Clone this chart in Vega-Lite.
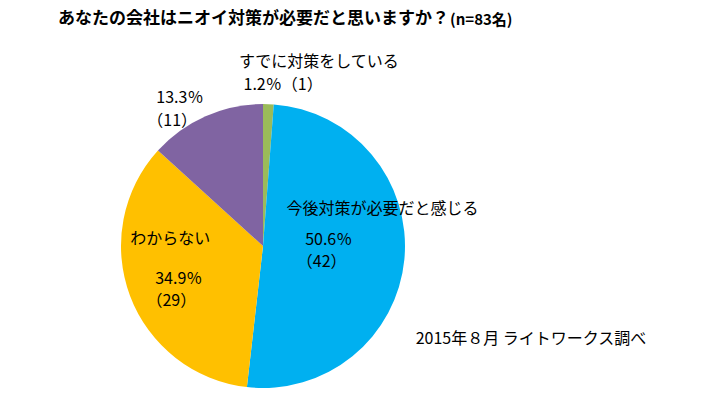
{
  "$schema": "https://vega.github.io/schema/vega-lite/v6.json",
  "autosize": {"type": "none"},
  "padding": {"left": 121, "top": 104, "right": 310, "bottom": 6},
  "width": 284,
  "height": 284,
  "background": "white",
  "config": {"view": {"stroke": null}, "font": "Noto Sans CJK JP"},
  "data": {
    "values": [
      {"cat": "すでに対策をしている", "pct": "1.2％（1）", "cnt": "", "n": 1, "order": 1},
      {"cat": "今後対策が必要だと感じる", "pct": "50.6％", "cnt": "（42）", "n": 42, "order": 2},
      {"cat": "わからない", "pct": "34.9％", "cnt": "（29）", "n": 29, "order": 3},
      {"cat": "その他", "pct": "13.3％", "cnt": "（11）", "n": 11, "order": 4}
    ]
  },
  "encoding": {
    "theta": {"field": "n", "type": "quantitative", "stack": true},
    "order": {"field": "order", "type": "quantitative"}
  },
  "layer": [
    {
      "mark": {"type": "arc"},
      "encoding": {
        "color": {
          "field": "cat",
          "type": "nominal",
          "scale": {
            "domain": ["すでに対策をしている", "今後対策が必要だと感じる", "わからない", "その他"],
            "range": ["#9BBB59", "#00B0F0", "#FFC000", "#8064A2"]
          },
          "legend": null
        }
      }
    },
    {
      "mark": {"type": "text", "align": "center", "baseline": "middle", "fontSize": 16, "color": "#000000", "dx": 49, "dy": 0},
      "encoding": {"radius": {"value": 184}, "text": {"condition": {"test": "datum.order === 1", "field": "cat"}, "value": ""}}
    },
    {
      "mark": {"type": "text", "align": "center", "baseline": "middle", "fontSize": 16, "color": "#000000", "dx": 14, "dy": 0},
      "encoding": {"radius": {"value": 161}, "text": {"condition": {"test": "datum.order === 1", "field": "pct"}, "value": ""}}
    },
    {
      "mark": {"type": "text", "align": "center", "baseline": "middle", "fontSize": 16, "color": "#000000", "dx": -18, "dy": -1},
      "encoding": {"radius": {"value": 161}, "text": {"condition": {"test": "datum.order === 4", "field": "pct"}, "value": ""}}
    },
    {
      "mark": {"type": "text", "align": "center", "baseline": "middle", "fontSize": 16, "color": "#000000", "dx": -35, "dy": 1},
      "encoding": {"radius": {"value": 138}, "text": {"condition": {"test": "datum.order === 4", "field": "cnt"}, "value": ""}}
    },
    {
      "mark": {"type": "text", "align": "center", "baseline": "middle", "fontSize": 16, "color": "#000000", "dx": 0, "dy": -48},
      "encoding": {"radius": {"value": 120}, "text": {"condition": {"test": "datum.order === 2", "field": "cat"}, "value": ""}}
    },
    {
      "mark": {"type": "text", "align": "center", "baseline": "middle", "fontSize": 16, "color": "#000000", "dx": 0, "dy": -12},
      "encoding": {"radius": {"value": 66}, "text": {"condition": {"test": "datum.order === 2", "field": "pct"}, "value": ""}}
    },
    {
      "mark": {"type": "text", "align": "center", "baseline": "middle", "fontSize": 16, "color": "#000000", "dx": 0, "dy": 10},
      "encoding": {"radius": {"value": 59}, "text": {"condition": {"test": "datum.order === 2", "field": "cnt"}, "value": ""}}
    },
    {
      "mark": {"type": "text", "align": "center", "baseline": "middle", "fontSize": 16, "color": "#000000", "dx": 0, "dy": -42},
      "encoding": {"radius": {"value": 99}, "text": {"condition": {"test": "datum.order === 3", "field": "cat"}, "value": ""}}
    },
    {
      "mark": {"type": "text", "align": "center", "baseline": "middle", "fontSize": 16, "color": "#000000", "dx": 0, "dy": 1},
      "encoding": {"radius": {"value": 90}, "text": {"condition": {"test": "datum.order === 3", "field": "pct"}, "value": ""}}
    },
    {
      "mark": {"type": "text", "align": "center", "baseline": "middle", "fontSize": 16, "color": "#000000", "dx": 0, "dy": 21},
      "encoding": {"radius": {"value": 98}, "text": {"condition": {"test": "datum.order === 3", "field": "cnt"}, "value": ""}}
    },
    {
      "data": {"values": [{"t": "あなたの会社はニオイ対策が必要だと思いますか？"}]},
      "mark": {"type": "text", "align": "left", "baseline": "middle", "fontSize": 17, "fontWeight": "bold", "color": "#000000"},
      "encoding": {"theta": null, "order": null, "x": {"value": -63}, "y": {"value": -85}, "text": {"field": "t", "type": "nominal"}}
    },
    {
      "data": {"values": [{"t": "(n=83名)"}]},
      "mark": {"type": "text", "align": "left", "baseline": "middle", "fontSize": 15, "fontWeight": "bold", "color": "#000000"},
      "encoding": {"theta": null, "order": null, "x": {"value": 329}, "y": {"value": -84}, "text": {"field": "t", "type": "nominal"}}
    },
    {
      "data": {"values": [{"t": "2015年８月 ライトワークス調べ"}]},
      "mark": {"type": "text", "align": "center", "baseline": "middle", "fontSize": 16, "color": "#000000"},
      "encoding": {"theta": null, "order": null, "x": {"value": 410}, "y": {"value": 235}, "text": {"field": "t", "type": "nominal"}}
    }
  ]
}
